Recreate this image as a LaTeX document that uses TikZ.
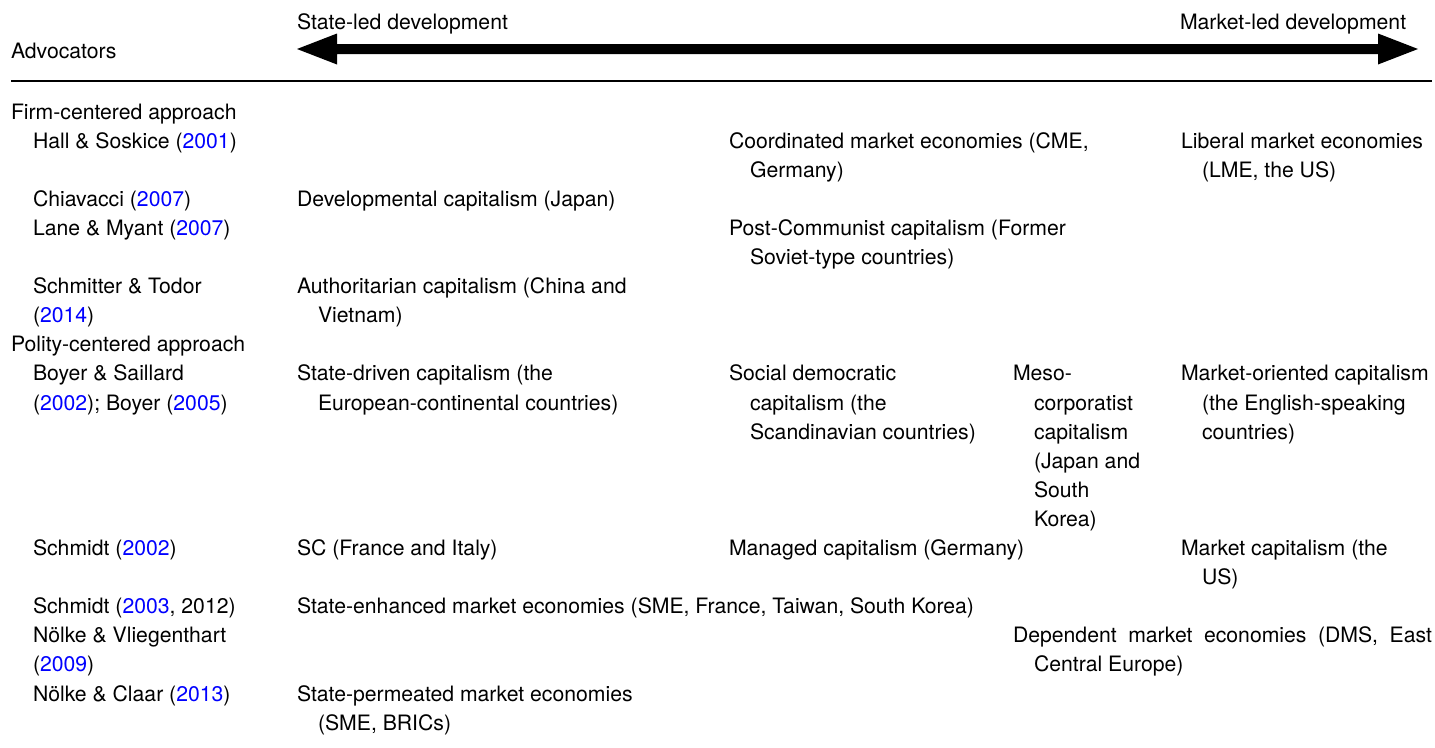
\documentclass[tikz,border=0pt]{standalone}
\usepackage{fontspec}
\setmainfont{TeX Gyre Heros}
\usetikzlibrary{calc}
\definecolor{citeblue}{RGB}{0,0,255}
\newcommand{\yr}[1]{\textcolor{citeblue}{#1}}
\begin{document}
\begin{tikzpicture}[x=1pt,y=-1pt,
  lbl/.style={anchor=base west, inner sep=0pt, outer sep=0pt, font=\fontsize{21.2}{29.1}\selectfont}]
\useasboundingbox (0,0) rectangle (1435,747);
% header
\node[lbl] (hdrS) at (297,29) {State-led development};
\node[lbl] (hdrM) at (1180,29) {Market-led development};
\node[lbl] (adv) at (11,58) {Advocators};
% arrow
\coordinate (aL) at (297,49);
\coordinate (aR) at (1418,49);
\fill[black] (aL) -- ++(40,-15.5) -- ++(0,10.5) -- ($(aR)+(-40,-5)$) -- ++(0,-10.5) -- (aR)
  -- ++(-40,15.5) -- ++(0,-10.5) -- ($(aL)+(40,5)$) -- ++(0,10.5) -- cycle;
% rule
\coordinate (rl) at (11,81);
\coordinate (rr) at (1432,81);
\draw[line width=1.2pt] (rl) -- (rr);
% firm-centered
\node[lbl] (firm) at (11,119) {Firm-centered approach};
\node[lbl] (hs) at (33,148.1) {Hall \& Soskice (\yr{2001})};
\node[lbl] (cme1) at (729,148.1) {Coordinated market economies (CME,};
\node[lbl] (cme2) at (750,177.2) {Germany)};
\node[lbl] (lme1) at (1181,148.1) {Liberal market economies};
\node[lbl] (lme2) at (1202,177.2) {(LME, the US)};
\node[lbl] (chi) at (33,206.3) {Chiavacci (\yr{2007})};
\node[lbl] (dev) at (297,206.3) {Developmental capitalism (Japan)};
\node[lbl] (lm) at (33,235.4) {Lane \& Myant (\yr{2007})};
\node[lbl] (pc1) at (729,235.4) {Post-Communist capitalism (Former};
\node[lbl] (pc2) at (750,264.5) {Soviet-type countries)};
\node[lbl] (st1) at (33,293.6) {Schmitter \& Todor};
\node[lbl] (st2) at (33,322.7) {(\yr{2014})};
\node[lbl] (au1) at (297,293.6) {Authoritarian capitalism (China and};
\node[lbl] (au2) at (318,322.7) {Vietnam)};
% polity-centered
\node[lbl] (pol) at (11,351.8) {Polity-centered approach};
\node[lbl] (bs1) at (33,380.9) {Boyer \& Saillard};
\node[lbl] (bs2) at (33,410) {(\yr{2002}); Boyer (\yr{2005})};
\node[lbl] (sd1) at (297,380.9) {State-driven capitalism (the};
\node[lbl] (sd2) at (318,410) {European-continental countries)};
\node[lbl] (sdc1) at (729,380.9) {Social democratic};
\node[lbl] (sdc2) at (750,410) {capitalism (the};
\node[lbl] (sdc3) at (750,439.1) {Scandinavian countries)};
\node[lbl] (meso1) at (1013,380.9) {Meso-};
\node[lbl] (meso2) at (1034,410) {corporatist};
\node[lbl] (meso3) at (1034,439.1) {capitalism};
\node[lbl] (meso4) at (1034,468.2) {(Japan and};
\node[lbl] (meso5) at (1034,497.3) {South};
\node[lbl] (meso6) at (1034,526.4) {Korea)};
\node[lbl] (mo1) at (1181,380.9) {Market-oriented capitalism};
\node[lbl] (mo2) at (1202,410) {(the English-speaking};
\node[lbl] (mo3) at (1202,439.1) {countries)};
\node[lbl] (sch1) at (33,555.5) {Schmidt (\yr{2002})};
\node[lbl] (sc) at (297,555.5) {SC (France and Italy)};
\node[lbl] (man) at (729,555.5) {Managed capitalism (Germany)};
\node[lbl] (mc1) at (1181,555.5) {Market capitalism (the};
\node[lbl] (mc2) at (1202,584.6) {US)};
\node[lbl] (sch2) at (33,613.7) {Schmidt (\yr{2003}, 2012)};
\node[lbl] (sem) at (297,613.7) {State-enhanced market economies (SME, France, Taiwan, South Korea)};
\node[lbl] (nv1) at (33,642.8) {Nölke \& Vliegenthart};
\node[lbl] (nv2) at (33,671.9) {(\yr{2009})};
\node[lbl] (dm1) at (1013,642.8) {\makebox[419pt][s]{Dependent market economies (DMS, East}};
\node[lbl] (dm2) at (1034,671.9) {Central Europe)};
\node[lbl] (nc) at (33,701) {Nölke \& Claar (\yr{2013})};
\node[lbl] (spm1) at (297,701) {State-permeated market economies};
\node[lbl] (spm2) at (318,730.1) {(SME, BRICs)};
\end{tikzpicture}
\end{document}
